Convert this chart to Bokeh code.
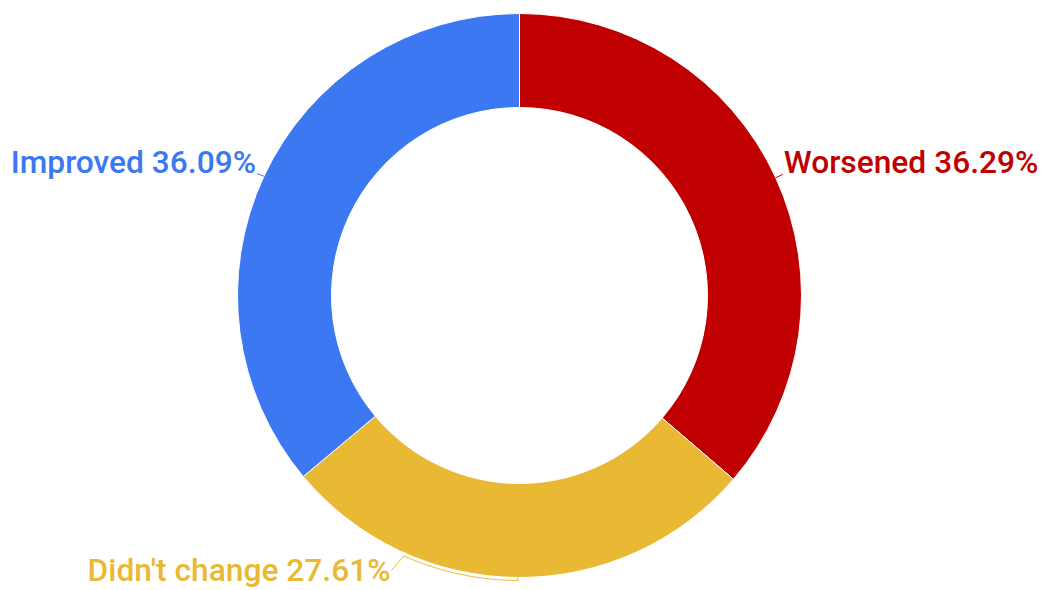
import numpy as np
from bokeh.plotting import figure
from bokeh.embed import file_html
from bokeh.resources import INLINE
from bokeh.core.properties import value

# ---- data ----
categories = ["Worsened", "Didn't change", "Improved"]
values = [36.29, 27.61, 36.09]
colors = ["#c00000", "#e9b934", "#3c78f2"]

# ---- layout ----
W, H = 1042, 590
CX, CY = 519, 295          # centre in data units (1 unit = 1 px)
R_OUT, R_IN = 282, 188
FONT = "Roboto Medium"
FSIZE = "31.7px"
TEXT_LIFT = 13             # baseline correction

p = figure(width=W, height=H, x_range=(0, W), y_range=(590 - H, 590),
           output_backend="svg", toolbar_location=None, min_border=0)
p.axis.visible = False
p.grid.visible = False
p.outline_line_color = None
p.background_fill_color = "white"

vals = np.array(values, dtype=float)
frac = vals / vals.sum()
cum = np.concatenate([[0.0], np.cumsum(frac)])
start = np.pi / 2 - 2 * np.pi * cum[:-1]
end = np.pi / 2 - 2 * np.pi * cum[1:]
mid = (start + end) / 2

p.annular_wedge(x=CX, y=CY, inner_radius=R_IN, outer_radius=R_OUT,
                start_angle=list(start), end_angle=list(end), direction="clock",
                fill_color=colors, line_color="white", line_width=1)

# label anchors relative to the slice mid-point on the outer edge
offsets = [(7, 3.5, "left"), (None, None, "right"), (-7, 2.5, "right")]
for i, (cat, v, col) in enumerate(zip(categories, values, colors)):
    ex = CX + R_OUT * np.cos(mid[i])
    ey = CY + R_OUT * np.sin(mid[i])
    label = f"{cat} {v:.2f}%"
    if i == 1:
        # leader follows the outer arc, then goes down-left to the label
        a_end = np.arctan2(590 - 556 - CY, 403 - CX)
        angs = np.linspace(mid[i], a_end if a_end < mid[i] else a_end - 2*np.pi, 40)
        rr = 285
        xs = [ex] + list(CX + rr * np.cos(angs)) + [391]
        ys = [ey] + list(CY + rr * np.sin(angs)) + [590 - 570]
        p.line(xs, ys, line_color=col, line_width=1)
        p.text(x=[390], y=[590 - 583 + TEXT_LIFT], text=[label], text_color=col,
               text_font=value(FONT), text_font_size=FSIZE,
               text_align="right", text_baseline="alphabetic")
    else:
        dx, dy, al = offsets[i]
        tx, ty = ex + dx, ey + dy
        p.line([ex, tx], [ey, ty], line_color=col, line_width=1)
        p.text(x=[tx + (1 if al == "left" else -1)], y=[ty - 1.5 + TEXT_LIFT], text=[label],
               text_color=col, text_font=value(FONT), text_font_size=FSIZE,
               text_align=al, text_baseline="alphabetic")

open("out.html", "w").write(file_html(p, INLINE))
